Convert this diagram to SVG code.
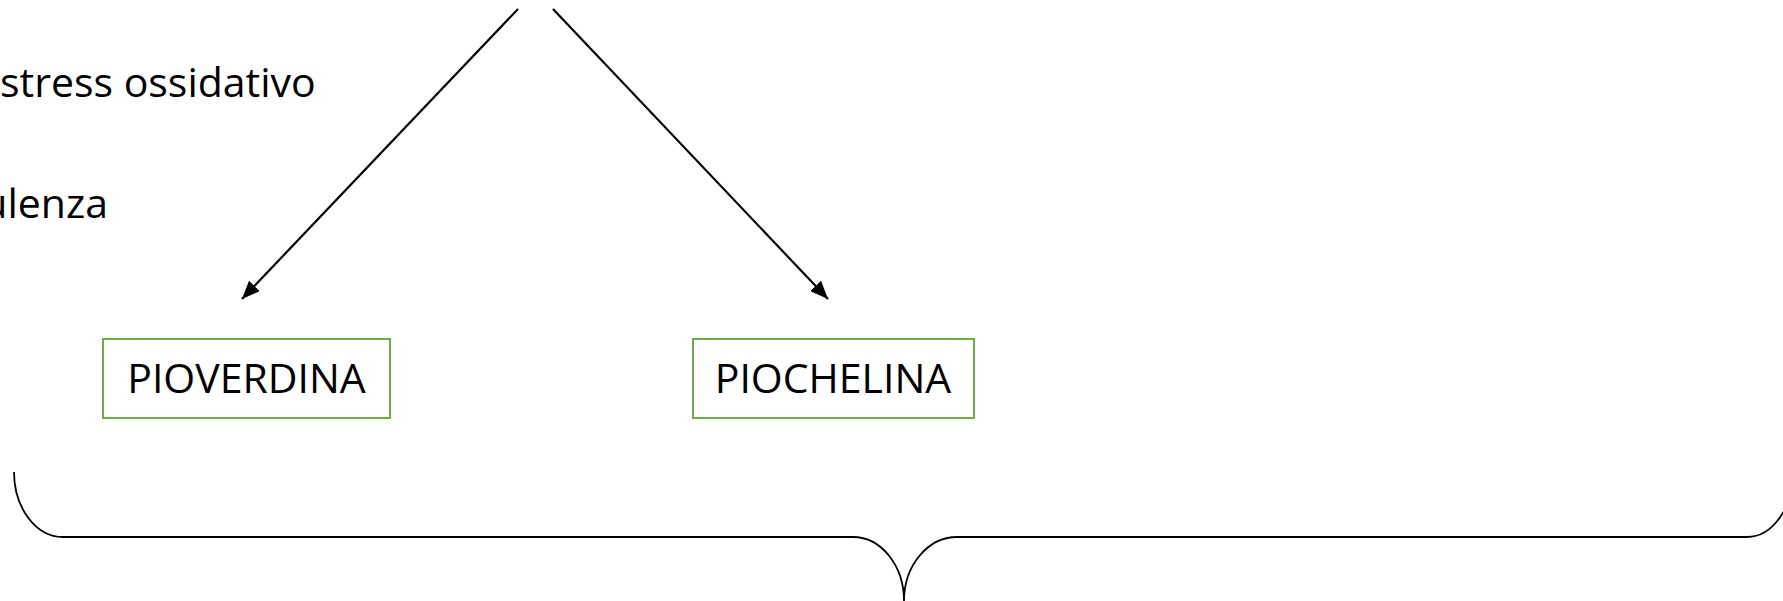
<svg xmlns="http://www.w3.org/2000/svg" width="1783" height="601" viewBox="0 0 1783 601">
  <style>
    .label { font-family: "Open Sans", "Liberation Sans", sans-serif; font-size: 41px; fill: #000000; }
    .box { fill: #ffffff; stroke: #70AD47; stroke-width: 2; }
    .arrow { stroke: #000000; stroke-width: 2.2; fill: none; }
    .brace { stroke: #000000; stroke-width: 1.8; fill: none; }
  </style>
  <defs>
    <marker id="head" markerUnits="userSpaceOnUse" markerWidth="19" markerHeight="15" refX="18" refY="7.5" orient="auto">
      <path d="M0,0 L18,7.5 L0,15 z" fill="#000000"/>
    </marker>
  </defs>
  <rect width="1783" height="601" fill="#ffffff"/>

  <!-- side notes -->
  <g id="note-stress">
    <text class="label" x="0" y="97">stress ossidativo</text>
  </g>
  <g id="note-virulenza">
    <text class="label" x="108" y="218" text-anchor="end">ulenza</text>
  </g>

  <!-- connectors -->
  <g id="connectors">
    <line class="arrow" x1="518" y1="9" x2="242" y2="299" marker-end="url(#head)"/>
    <line class="arrow" x1="553" y1="9" x2="828" y2="299" marker-end="url(#head)"/>
  </g>

  <!-- siderophore nodes -->
  <g id="node-pioverdina">
    <rect class="box" x="103" y="339" width="287" height="79"/>
    <text class="label" x="246.5" y="393" text-anchor="middle">PIOVERDINA</text>
  </g>
  <g id="node-piochelina">
    <rect class="box" x="693" y="339" width="281" height="79"/>
    <text class="label" x="833" y="393" text-anchor="middle">PIOCHELINA</text>
  </g>

  <!-- grouping brace under both nodes -->
  <g id="brace">
    <path class="brace" d="M14,472 A49,65 0 0 0 63,537 L853,537 A51,64 0 0 1 904,601 A53,64 0 0 1 957,537 L1747,537 A46,65 0 0 0 1793,472"/>
  </g>
</svg>
